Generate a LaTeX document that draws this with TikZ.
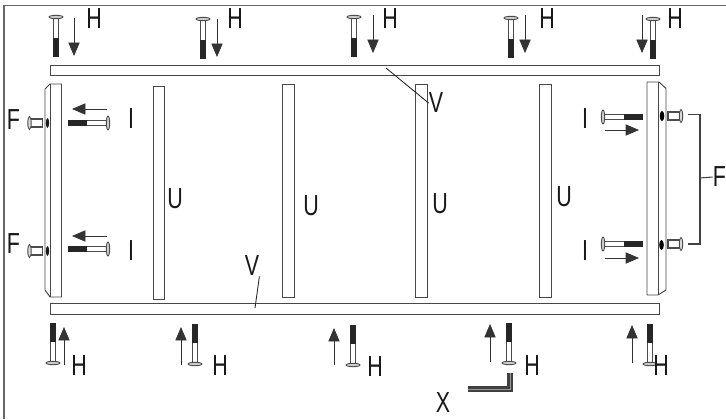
\documentclass[tikz,border=0pt]{standalone}
\usepackage{fontspec}
\setmainfont{Liberation Sans}
\usetikzlibrary{arrows.meta}
\tikzset{
  part/.style={draw=black!72,line width=.55pt,fill=white},
  lab/.style={font=\fontsize{16.5}{16.5}\selectfont,inner sep=0pt,xscale=.74,text=black!90},
  hbolt/.pic={
    \draw[black!70,line width=.5pt,fill=white] (-2.6,0) rectangle (2.6,22);
    \fill[black!85] (-3,21) rectangle (3,40);
    \draw[black!70,line width=.5pt,fill=black!20] (0,0) ellipse [x radius=7,y radius=1.7];
  },
  fpin/.pic={
    \draw[black!70,line width=.6pt,fill=white] (-4,0) rectangle (4,13);
    \draw[black!70,line width=.5pt,fill=black!15] (0,0) ellipse [x radius=6.5,y radius=1.7];
  }
}
\begin{document}
\begin{tikzpicture}[x=.02cm,y=-.02cm,>={Triangle[length=7.6pt,width=6.4pt]}]
\useasboundingbox (0,0) rectangle (726,419);
% frame
\draw[black!60,line width=.9pt] (726,5.5) -- (4,5.5) -- (4,419);
% rails
\draw[part] (50,65) rectangle (659,75);
\draw[part] (50,303.5) rectangle (659,314);
% uprights
\draw[part] (153,86) rectangle (164,299);
\draw[part] (282.5,84) rectangle (294,297);
\draw[part] (415.5,84) rectangle (427,297);
\draw[part] (539.5,84) rectangle (551,297);
% end plates
\draw[part] (50,84) -- (61.5,84) -- (61.5,297) -- (50,297) -- (45,290) -- (45,89) -- cycle;
\draw[part] (50,84) -- (50,297);
\draw[part] (647,82) -- (659,82) -- (666,88.5) -- (666,290) -- (658,295) -- (647,295) -- cycle;
\draw[part] (658.5,82) -- (658.5,295);
\fill[black!90] (47.5,123) ellipse [x radius=1.6,y radius=5];
\fill[black!90] (47.5,251) ellipse [x radius=1.6,y radius=5];
\fill[black] (662,116) ellipse [x radius=2.3,y radius=5];
\fill[black] (661.5,245) ellipse [x radius=2.3,y radius=5];
% top bolts
\pic (h1) at (56,17) {hbolt};
\pic (h2) at (203,19) {hbolt};
\pic (h3) at (354,17) {hbolt};
\pic (h4) at (511,18) {hbolt};
\pic (h5) at (653,19) {hbolt};
% bottom bolts
\pic[rotate=180] (h6) at (53,363) {hbolt};
\pic[rotate=180] (h7) at (195,364) {hbolt};
\pic[rotate=180] (h8) at (353,365) {hbolt};
\pic[rotate=180] (h9) at (509,363) {hbolt};
\pic[rotate=180] (h10) at (650,364) {hbolt};
% side bolts
\pic[rotate=-90] (i1) at (108,123) {hbolt};
\pic[rotate=-90] (i2) at (108,249) {hbolt};
\pic[rotate=90] (i3) at (603,117) {hbolt};
\pic[rotate=90] (i4) at (603,244) {hbolt};
% pins
\pic[rotate=90] (p1) at (29.5,123) {fpin};
\pic[rotate=90] (p2) at (29.5,251) {fpin};
\pic[rotate=-90] (p3) at (681,116) {fpin};
\pic[rotate=-90] (p4) at (681,244) {fpin};
% arrows
\coordinate (a1s) at (74,18);
\coordinate (a1e) at (74,56);
\coordinate (a2s) at (217,19);
\coordinate (a2e) at (217,57);
\coordinate (a3s) at (373,15);
\coordinate (a3e) at (373,53);
\coordinate (a4s) at (525,15);
\coordinate (a4e) at (525,53);
\coordinate (a5s) at (642,15);
\coordinate (a5e) at (642,53);
\coordinate (a6s) at (64,365);
\coordinate (a6e) at (64,327);
\coordinate (a7s) at (181,365);
\coordinate (a7e) at (181,327);
\coordinate (a8s) at (334,365);
\coordinate (a8e) at (334,328);
\coordinate (a9s) at (490,362);
\coordinate (a9e) at (490,324);
\coordinate (a10s) at (632,363);
\coordinate (a10e) at (632,325);
\coordinate (a11s) at (107,109);
\coordinate (a11e) at (72,109);
\coordinate (a12s) at (107,236);
\coordinate (a12e) at (72,236);
\coordinate (a13s) at (605,130);
\coordinate (a13e) at (639,130);
\coordinate (a14s) at (605,258);
\coordinate (a14e) at (639,258);
\draw[->,black!80] (a1s) -- (a1e);
\draw[->,black!80] (a2s) -- (a2e);
\draw[->,black!80] (a3s) -- (a3e);
\draw[->,black!80] (a4s) -- (a4e);
\draw[->,black!80] (a5s) -- (a5e);
\draw[->,black!80] (a6s) -- (a6e);
\draw[->,black!80] (a7s) -- (a7e);
\draw[->,black!80] (a8s) -- (a8e);
\draw[->,black!80] (a9s) -- (a9e);
\draw[->,black!80] (a10s) -- (a10e);
\draw[->,black!80] (a11s) -- (a11e);
\draw[->,black!80] (a12s) -- (a12e);
\draw[->,black!80] (a13s) -- (a13e);
\draw[->,black!80] (a14s) -- (a14e);
% labels
\node[lab] (lh1) at (94,19) {H};
\node[lab] (lh2) at (235,19) {H};
\node[lab] (lh3) at (390,18.5) {H};
\node[lab] (lh4) at (547,19) {H};
\node[lab] (lh5) at (675,19) {H};
\node[lab] (lh6) at (79,366) {H};
\node[lab] (lh7) at (220,366) {H};
\node[lab] (lh8) at (375,367) {H};
\node[lab] (lh9) at (532,366) {H};
\node[lab] (lh10) at (661,366) {H};
\node[lab] (lf1) at (13.5,119.5) {F};
\node[lab] (lf2) at (13.5,244) {F};
\node[lab] (lf3) at (719.5,177) {F};
\node[lab] (li1) at (131,119) {I};
\node[lab] (li2) at (131,251) {I};
\node[lab] (li3) at (585,119) {I};
\node[lab] (li4) at (585,251) {I};
\node[lab] (lu1) at (175,199) {U};
\node[lab] (lu2) at (311,206) {U};
\node[lab] (lu3) at (440,204) {U};
\node[lab] (lu4) at (564,197) {U};
\node[lab] (lv1) at (436,103) {V};
\node[lab] (lv2) at (252,266) {V};
\node[lab] (lx) at (443,403) {X};
% leaders
\coordinate (v1e) at (386,68);
\coordinate (v2e) at (255,308);
\draw[black!85,line width=.5pt] (v1e) -- (lv1.west);
\draw[black!85,line width=.5pt] (v2e) -- (lv2.south east);
% bracket
\coordinate (b1) at (688,114.5);
\coordinate (b2) at (700,114.5);
\coordinate (b3) at (700,244);
\coordinate (b4) at (688,244);
\coordinate (b5) at (700,178);
\draw[black!75,line width=.6pt] (b1) -- (b2) -- (b3) -- (b4);
\draw[black!75,line width=.6pt] (b5) -- (lf3.west);
% wrench
\coordinate (x1) at (468,389);
\coordinate (x2) at (510,389);
\coordinate (x3) at (510,373);
\draw[black!75,line width=3.3pt] (x1) -- (x2) -- (x3);
\draw[black!40,line width=.5pt] (x1) -- (x2) -- (x3);
\end{tikzpicture}
\end{document}
